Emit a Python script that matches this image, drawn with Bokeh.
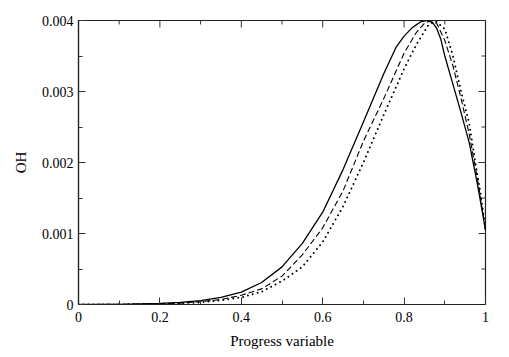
import math
from bokeh.plotting import figure
from bokeh.models import Range1d, FixedTicker, CustomJSTickFormatter
from bokeh.embed import file_html
from bokeh.resources import INLINE

# --- data ---
x_solid = [0.0, 0.1, 0.2, 0.25, 0.3, 0.35, 0.4, 0.45, 0.5, 0.55, 0.6, 0.65, 0.7, 0.75,
           0.78, 0.8, 0.82, 0.84, 0.855, 0.87, 0.88, 0.89, 0.9, 0.92, 0.94, 0.96, 0.98, 1.0]
y_solid = [0.0, 0.000003, 0.000015, 0.00003, 0.000056, 0.0001, 0.000175, 0.00031, 0.00053,
           0.00086, 0.0013, 0.0019, 0.00257, 0.00325, 0.00362, 0.00378, 0.0039, 0.00398,
           0.004, 0.00397, 0.00389, 0.00374, 0.0035, 0.0031, 0.0027, 0.00228, 0.0017, 0.00105]

x_dashed = [0.0, 0.1, 0.2, 0.25, 0.3, 0.35, 0.4, 0.45, 0.5, 0.55, 0.6, 0.65, 0.7, 0.75,
            0.8, 0.83, 0.85, 0.865, 0.88, 0.9, 0.92, 0.94, 0.96, 0.98, 1.0]
y_dashed = [0.0, 0.000002, 0.00001, 0.00002, 0.00004, 0.00007, 0.00013, 0.00022, 0.0004,
            0.0007, 0.00108, 0.0016, 0.0023, 0.0029, 0.00354, 0.00383, 0.00396, 0.004,
            0.00396, 0.00372, 0.00336, 0.0029, 0.0024, 0.00178, 0.00105]

x_dotted = [0.0, 0.1, 0.2, 0.3, 0.35, 0.4, 0.45, 0.5, 0.55, 0.6, 0.65, 0.7, 0.75, 0.8,
            0.83, 0.86, 0.878, 0.9, 0.92, 0.94, 0.96, 0.975, 0.988, 1.0]
y_dotted = [0.0, 0.000001, 0.000007, 0.00003, 0.00006, 0.0001, 0.00018, 0.00033, 0.00053,
            0.00088, 0.00138, 0.002, 0.00267, 0.00332, 0.00366, 0.00394, 0.00399, 0.00388,
            0.0035, 0.003, 0.00255, 0.002, 0.00156, 0.00105]

x_ticks = [0, 0.2, 0.4, 0.6, 0.8, 1.0]
x_minor = [0.1, 0.3, 0.5, 0.7, 0.9]
y_ticks = [0, 0.001, 0.002, 0.003, 0.004]
y_minor = [0.0005, 0.0015, 0.0025, 0.0035]

FONT = "Liberation Serif"
X0, X1 = 0, 1
Y0, Y1 = 0, 0.004

p = figure(width=509, height=357, output_backend="svg", toolbar_location=None,
           x_range=Range1d(X0, X1), y_range=Range1d(Y0, Y1),
           min_border_left=78, min_border_right=24, min_border_top=20, min_border_bottom=53)
p.background_fill_color = "white"
p.border_fill_color = "white"
p.outline_line_color = "#222222"
p.outline_line_width = 1.2
p.grid.visible = False

fmt = CustomJSTickFormatter(code="return Number(tick.toFixed(4)).toString();")

def style(ax, ticks, minor):
    ax.ticker = FixedTicker(ticks=ticks, minor_ticks=minor)
    ax.major_tick_in = 7
    ax.major_tick_out = 0
    ax.minor_tick_in = 4
    ax.minor_tick_out = 0
    ax.major_tick_line_color = "#333333"
    ax.minor_tick_line_color = "#333333"
    ax.axis_line_color = "#222222"
    ax.axis_line_width = 1.2
    ax.formatter = fmt
    ax.major_label_text_font = FONT
    ax.major_label_text_font_size = "14px"
    ax.major_label_text_color = "black"
    ax.axis_label_text_font = FONT
    ax.axis_label_text_font_size = "15px"
    ax.axis_label_text_font_style = "normal"
    ax.axis_label_text_color = "black"

xa = p.xaxis[0]
ya = p.yaxis[0]
style(xa, x_ticks, x_minor)
style(ya, y_ticks, y_minor)
xa.axis_label = "Progress variable"
ya.axis_label = "OH"
xa.major_label_standoff = 7
ya.major_label_standoff = 5
xa.axis_label_standoff = 8
ya.axis_label_standoff = 10

# mirrored inward ticks on the top and right edges
tick_col = "#333333"
p.ray(x=x_ticks, y=[Y1] * len(x_ticks), length=7, length_units="screen",
      angle=-math.pi / 2, line_color=tick_col, line_width=1)
p.ray(x=x_minor, y=[Y1] * len(x_minor), length=4, length_units="screen",
      angle=-math.pi / 2, line_color=tick_col, line_width=1)
p.ray(x=[X1] * len(y_ticks), y=y_ticks, length=7, length_units="screen",
      angle=math.pi, line_color=tick_col, line_width=1)
p.ray(x=[X1] * len(y_minor), y=y_minor, length=4, length_units="screen",
      angle=math.pi, line_color=tick_col, line_width=1)

p.line(x_solid, y_solid, line_color="black", line_width=1.3)
p.line(x_dashed, y_dashed, line_color="black", line_width=1.1, line_dash="6 3")
p.line(x_dotted, y_dotted, line_color="black", line_width=2.0, line_dash="0 5",
       line_cap="round")

open("out.html", "w").write(file_html(p, INLINE))
